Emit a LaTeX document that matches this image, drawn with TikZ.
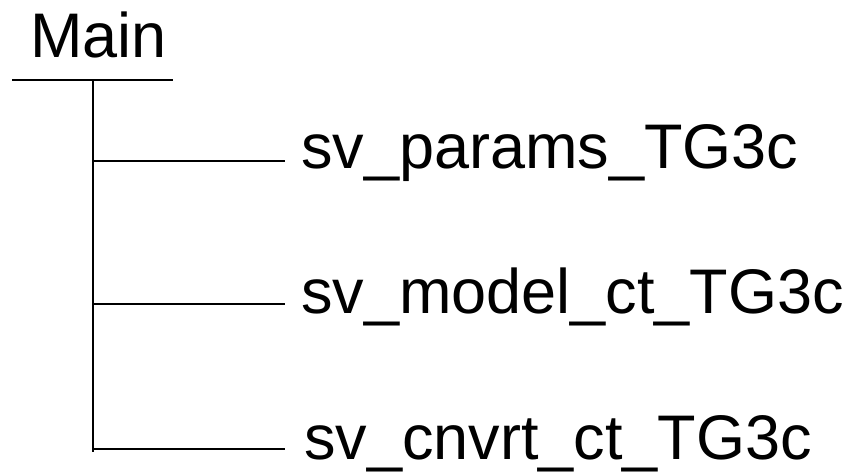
\documentclass[tikz,border=0pt]{standalone}
\usepackage{fontspec}
\setmainfont{Liberation Sans}
\begin{document}
\begin{tikzpicture}[x=1pt,y=-1pt,
  lbl/.style={anchor=base west,inner sep=0pt,font=\fontsize{63}{75}\selectfont},
  treeline/.style={draw=black,line width=1.4pt}]
\useasboundingbox (0,0) rectangle (861,472);
\node[lbl] (main) at (30,57) {Main};
\node[lbl] (p) at (301,168) {sv\_params\_TG3c};
\node[lbl] (m) at (301,313) {sv\_model\_ct\_TG3c};
\node[lbl] (c) at (304,459) {sv\_cnvrt\_ct\_TG3c};
\coordinate (ul) at (12,80);
\coordinate (ur) at (173,80);
\coordinate (top) at (93,80);
\coordinate (bot) at (93,452);
\coordinate (b1) at (93,161);
\coordinate (b2) at (93,304);
\coordinate (b3) at (93,449);
\coordinate (e1) at (285,161);
\coordinate (e2) at (285,304);
\coordinate (e3) at (285,449);
\draw[treeline] (ul) -- (ur);
\draw[treeline] (top) -- (bot);
\draw[treeline] (b1) -- (e1);
\draw[treeline] (b2) -- (e2);
\draw[treeline] (b3) -- (e3);
\end{tikzpicture}
\end{document}
